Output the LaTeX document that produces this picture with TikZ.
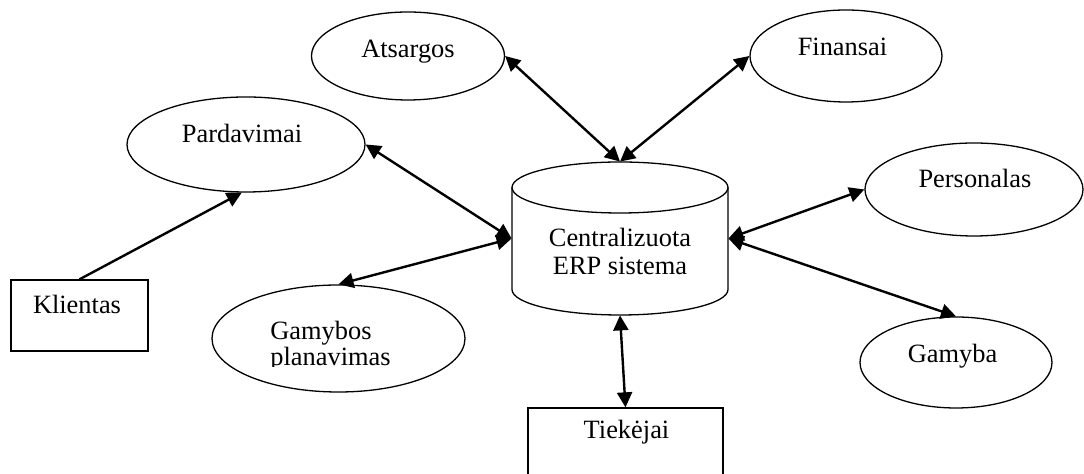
\documentclass[tikz,border=0pt]{standalone}
\usepackage{fontspec}
\setmainfont{Liberation Serif}
\usetikzlibrary{shapes.geometric,arrows.meta}
\tikzset{
  outline/.style={line width=0.65pt},
  proc/.style={draw, ellipse, outline, inner sep=0pt},
  ext/.style={draw, rectangle, outline, inner sep=0pt, minimum width=68.5pt, minimum height=35.5pt},
  dbase/.style={rectangle, inner sep=0pt, minimum width=108pt, minimum height=76.5pt},
  lab/.style={font=\fontsize{13.2}{14}\selectfont, inner sep=0pt, text height=9.2pt, text depth=3.3pt},
  labm/.style={font=\fontsize{13.2}{14}\selectfont, inner sep=0pt},
  flow/.style={line width=1.2pt, -{Triangle[length=7.5pt,width=7.5pt]}},
  biflow/.style={line width=1.2pt, {Triangle[length=7.5pt,width=7.5pt]}-{Triangle[length=7.5pt,width=7.5pt]}}
}
\begin{document}
\begin{tikzpicture}[x=0.5pt,y=-0.5pt]
  \useasboundingbox (0,0) rectangle (1084,474);
  \clip (0,0) rectangle (1084,474);

  % central system (cylinder)
  \node[dbase] (erp) at (620,238.5) {};
  \draw[outline] (620,187.5) ellipse [x radius=54pt, y radius=12.75pt];
  \draw[outline] (512,187.5) -- (512,289.5) arc [start angle=180, end angle=360, x radius=54pt, y radius=12.75pt] -- (728,187.5);
  \node[labm, align=center] (erpT) at (620,251) {Centralizuota\\ERP sistema};

  % modules round the system
  \node[proc, minimum width=96.5pt, minimum height=44pt] (ats) at (408,56) {};
  \node[proc, minimum width=119pt, minimum height=47.5pt] (pard) at (246,144.5) {};
  \node[proc, minimum width=96pt, minimum height=46pt] (fin) at (846,56) {};
  \node[proc, minimum width=109pt, minimum height=46.5pt] (pers) at (974,189.5) {};
  \node[proc, minimum width=96pt, minimum height=45.5pt] (gam) at (956,362.5) {};
  \node[proc, minimum width=126.5pt, minimum height=53.5pt] (gplan) at (338.5,338.5) {};

  \node[lab] (atsT) at (408,52) {Atsargos};
  \node[lab] (pardT) at (242,137) {Pardavimai};
  \node[lab] (finT) at (842.5,50) {Finansai};
  \node[lab] (persT) at (975,182) {Personalas};
  \node[lab] (gamT) at (952.5,357) {Gamyba};
  \begin{scope}
    \clip (200,300) rectangle (480,367);
    \node[labm, align=left, anchor=west, font=\fontsize{13.2}{11.5}\selectfont] (gplanT) at (270,346.6) {Gamybos\\planavimas};
  \end{scope}

  % outside parties
  \node[ext] (kli) at (79.5,315.5) {};
  \node[ext, minimum width=97.5pt] (tiek) at (625.5,443.5) {};
  \node[lab] (kliT) at (77,308) {Klientas};
  \node[lab] (tiekT) at (626.5,433) {Tiekėjai};

  % connectors
  \draw[flow] (kli.north) -- (pard.265);
  \draw[biflow] (pard.east) -- (erp.west);
  \draw[biflow] (erp.west) -- (gplan.north);
  \draw[biflow] (ats.east) -- (erp.north);
  \draw[biflow] (fin.west) -- (erp.north);
  \draw[biflow] (erp.east) -- (pers.west);
  \draw[biflow] (erp.east) -- (gam.north);
  \draw[biflow] (erp.south) -- (tiek.north);
\end{tikzpicture}
\end{document}
